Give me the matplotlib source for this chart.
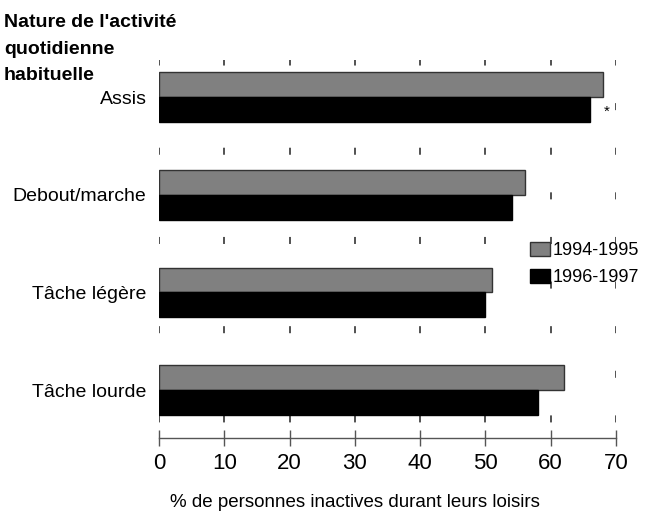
import matplotlib
matplotlib.use("Agg")
import matplotlib.pyplot as plt
import numpy as np

categories = ["Assis", "Debout/marche", "Tâche légère", "Tâche lourde"]
val_9495 = [68, 56, 51, 62]
val_9697 = [66, 54, 50, 58]
series_labels = ["1994-1995", "1996-1997"]
xticks = [0, 10, 20, 30, 40, 50, 60, 70]

plt.rcParams['font.family'] = ['Liberation Sans', 'DejaVu Sans']

fig = plt.figure(figsize=(6.55, 5.15), dpi=100)
ax = fig.add_axes([0.2427, 0.1495, 0.6978, 0.734])

y = np.arange(len(categories))
h = 0.253
ax.barh(y - h / 2, val_9495, height=h, color="#808080", edgecolor="#333333",
        linewidth=1, label=series_labels[0], zorder=3)
ax.barh(y + h / 2, val_9697, height=h, color="#000000", edgecolor="#000000",
        linewidth=1, label=series_labels[1], zorder=3)

# asterisk next to the Assis 1996-1997 bar
ax.text(val_9697[0] + 2.5, y[0] + h / 2 + 0.02, "*", fontsize=11, ha="center", va="center")

ax.set_xlim(0, 70)
ax.set_ylim(3.49, -0.38)
ax.set_xticks(xticks)
ax.set_yticks(y)
ax.set_yticklabels(categories, fontsize=14)
ax.tick_params(axis="y", length=0, pad=9)
ax.tick_params(axis="x", direction="inout", length=12, width=1, color="#555555",
               labelsize=16, pad=5)

for x in xticks:
    ax.axvline(x, color="#222222", linewidth=1.1, linestyle=(19.0, (4.6, 24.6)), zorder=1)

for s in ["left", "top", "right"]:
    ax.spines[s].set_visible(False)
ax.spines["bottom"].set_color("#555555")
ax.spines["bottom"].set_linewidth(1)

ax.set_xlabel("% de personnes inactives durant leurs loisirs", fontsize=13.5,
              labelpad=14, x=0.429)

fig.text(0.006, 0.972, "Nature de l'activité\nquotidienne\nhabituelle", fontsize=14,
         fontweight="bold", ha="left", va="top", linespacing=1.7)

ax.legend(frameon=False, loc="upper left", bbox_to_anchor=(0.795, 0.538), fontsize=13,
          handlelength=1.15, handleheight=0.8, handletextpad=0.15, labelspacing=0.55,
          borderaxespad=0)

fig.savefig("out.png", dpi=100)
